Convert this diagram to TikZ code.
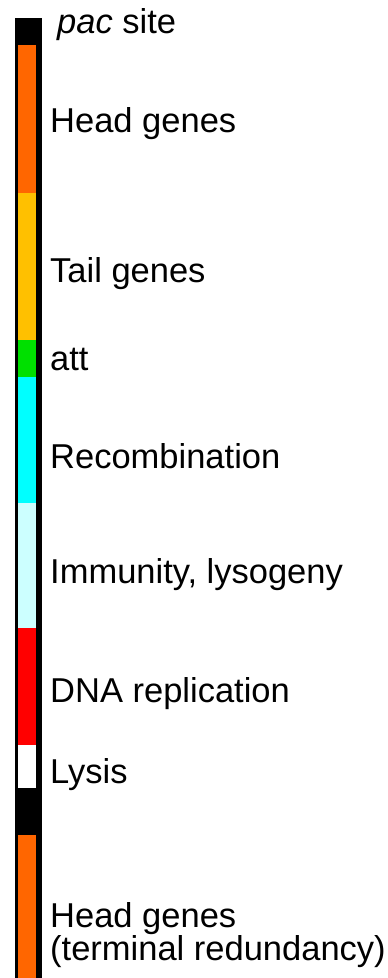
\documentclass[tikz,border=0pt]{standalone}
\usepackage{fontspec}
\setmainfont{Liberation Sans}
\usepackage{xcolor}
\usepackage{tikz}
\usetikzlibrary{positioning}

\definecolor{headorange}{HTML}{FF6600}
\definecolor{tailyellow}{HTML}{FFC000}
\definecolor{attgreen}{HTML}{00E000}
\definecolor{recocyan}{HTML}{00FFFF}
\definecolor{immcyan}{HTML}{CCFFFF}
\definecolor{dnared}{HTML}{FF0000}

\begin{document}
\begin{tikzpicture}[
  x=1pt, y=-1pt,
  seg/.style={fill=#1, draw=none},
  lbl/.style={anchor=base west, inner sep=0pt, align=left, font=\fontsize{34.5}{33}\selectfont},
]
\useasboundingbox (0,0) rectangle (388,978);
% bar frame
\fill[black] (15,18) rectangle (42,978);
% gene segments
\fill[seg=black] (18,18) rectangle (36,45);
\fill[seg=headorange] (18,45) rectangle (36,193);
\fill[seg=tailyellow] (18,193) rectangle (36,340);
\fill[seg=attgreen] (18,340) rectangle (36,377);
\fill[seg=recocyan] (18,377) rectangle (36,503);
\fill[seg=immcyan] (18,503) rectangle (36,628);
\fill[seg=dnared] (18,628) rectangle (36,745);
\fill[seg=white] (18,745) rectangle (36,788);
\fill[seg=black] (18,788) rectangle (36,835);
\fill[seg=headorange] (18,835) rectangle (36,978);
% labels
\node[lbl] (pac) at (57,33) {\textit{pac} site};
\node[lbl] (head) at (50,132) {Head genes};
\node[lbl] (tail) at (50,282) {Tail genes};
\node[lbl] (att) at (50,370) {att};
\node[lbl] (reco) at (50,468) {Recombination};
\node[lbl] (imm) at (50,583) {Immunity, lysogeny};
\node[lbl] (dna) at (50,702) {DNA replication};
\node[lbl] (lysis) at (50,783) {Lysis};
\node[lbl] (headtr) at (50,960) {Head genes\\(terminal redundancy)};
\end{tikzpicture}
\end{document}
